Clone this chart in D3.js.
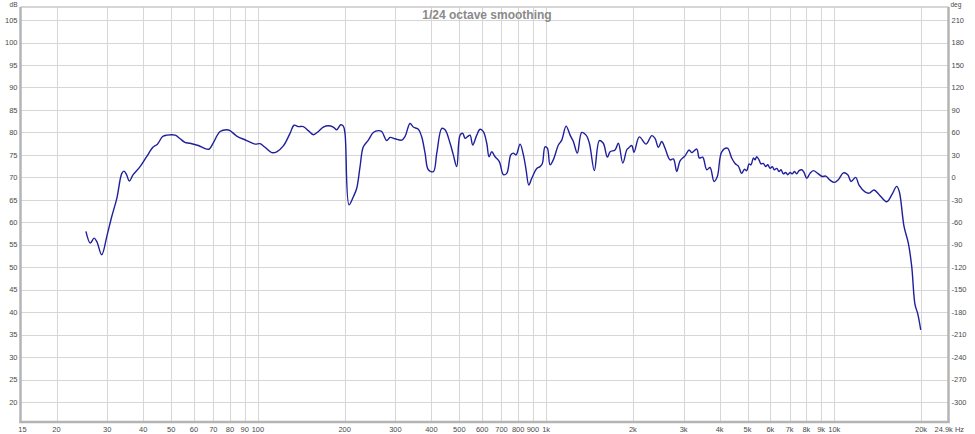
<!DOCTYPE html>
<html>
<head>
<meta charset="utf-8">
<script src="https://cdn.jsdelivr.net/npm/d3@7"></script>
<style>
  html, body { margin: 0; padding: 0; background: #fff; }
  svg { display: block; }
  text { font-family: "Liberation Sans", Arial, sans-serif; }
</style>
</head>
<body>
<svg id="chart" width="975" height="434"></svg>
<script>
// ---- data ----
const title = "1/24 octave smoothing";
const freqTicks = [20,30,40,50,60,70,80,90,100,200,300,400,500,600,700,800,900,1000,2000,3000,4000,5000,6000,7000,8000,9000,10000,20000];
const freqTickLabels = ["20","30","40","50","60","70","80","90","100","200","300","400","500","600","700","800","900","1k","2k","3k","4k","5k","6k","7k","8k","9k","10k","20k"];
const dbTicks = [20,25,30,35,40,45,50,55,60,65,70,75,80,85,90,95,100,105];
const degTickLabels = ["-300","-270","-240","-210","-180","-150","-120","-90","-60","-30","0","30","60","90","120","150","180","210"];
const freqDomain = [15, 24900];
const dbDomain = [15.6, 107.9];

const freq = [25.3,26.2,27.0,27.6,28.7,29.9,31.1,32.4,33.7,34.3,35.0,35.8,36.9,39.0,41.1,43.2,44.8,46.7,48.3,51.6,53.7,55.8,58.1,62.1,66.4,67.8,70.0,73.9,77.9,80.0,84.4,91.4,97.7,101.7,105.8,111.7,116.2,122.5,129.2,133.5,138.1,143.7,149.6,155.7,162.0,168.6,175.5,182.6,187.7,193.8,197.8,
 200.5,207.1,214.3,220.2,226.1,232.1,241.6,251.4,261.7,268.9,279.9,287.4,299.1,315.5,323.9,337.1,346.1,360.3,370.2,380.1,390.3,406.2,417.4,434.4,446.0,464.2,476.4,489.6,502.7,513.6,523.1,534.5,544.5,556.3,574.4,589.8,605.5,622.2,633.8,647.6,664.9,688.1,710.5,730.1,753.9,769.7,786.5,812.1,833.8,852.0,870.6,891.7,927.9,952.6,970.3,991.3,1010,1032,1059,1103,1133,1173,1211,1243,1283,1329,1376,1413,1470,1530,1579,1631,1667,1734,1781,1845,1904,1929,1982,2018,
 2106,2222,2326,2387,2451,2518,2586,2692,2764,2840,2916,3034,3133,3201,3332,3401,3494,3608,3705,3825,3927,4068,4255,4406,4524,4645,4772,4873,4967,5059,5140,5236,5308,5380,5480,5568,5672,5781,5875,5984,6095,6193,6313,6430,6533,6654,6783,6893,7021,7150,7266,7406,7544,7708,7851,8023,8236,8456,8757,9087,9337,9663,10000,10325,10747,11133,11430,11866,12184,12781,13227,13734,14330,15203,15821,16465,16810,17453,18062,18559,19056,19470,19943];
const spl = [58.0,55.4,56.5,55.7,52.8,56.9,61.3,65.4,70.9,71.4,70.6,69.2,70.6,72.4,74.6,76.7,77.4,79.1,79.4,79.4,78.6,77.8,77.6,77.1,76.3,76.3,77.7,80.2,80.6,80.4,79.2,78.2,77.4,77.5,76.7,75.5,75.7,77.0,79.8,81.6,81.3,81.3,80.4,79.5,80.2,81.2,81.5,81.2,80.6,81.7,81.4,
 79.8,63.9,65.7,67.6,72.4,76.8,78.3,80.0,80.4,80.2,78.2,78.9,78.6,78.3,79.1,82.0,81.2,80.7,79.0,75.4,71.7,71.3,75.4,80.9,80.6,77.6,75.0,72.4,79.4,79.8,78.7,79.1,79.4,77.2,79.4,80.7,80.2,77.6,74.6,75.7,74.6,73.5,70.6,70.9,75.0,75.4,75.0,77.4,75.0,71.7,68.3,69.8,72.0,72.4,73.1,76.8,76.5,72.8,73.9,77.2,78.3,81.4,79.4,78.0,75.4,80.0,79.4,77.6,71.5,78.2,77.6,74.5,75.7,76.1,77.6,73.2,76.1,76.5,77.1,75.6,
 79.0,77.4,79.3,78.7,76.7,78.0,76.5,73.9,74.1,71.3,73.7,74.8,76.1,75.5,76.3,74.3,74.5,71.7,72.2,69.1,70.2,75.7,76.5,74.3,73.1,72.5,70.9,71.8,71.5,73.0,72.8,74.3,73.9,74.6,73.9,73.0,73.1,72.4,72.8,72.0,72.4,71.7,72.0,71.3,71.7,70.8,71.1,70.6,71.1,70.8,71.3,70.8,71.5,71.7,71.1,69.8,70.9,71.5,70.9,70.2,70.3,69.4,68.9,69.5,71.0,70.6,69.1,70.0,68.3,66.8,66.5,67.2,66.1,64.6,66.1,68.0,66.8,59.1,55.4,50.2,41.7,39.7,36.1];

// ---- chart ----
const L = 20.5, R = 948.5, T = 7, B = 422;
const svg = d3.select("#chart");

const x = d3.scaleLog().domain(freqDomain).range([L, R]);
const y = d3.scaleLinear().domain(dbDomain).range([B, T]);

const labelColor = "#4a4a4a";
const gridColor = "#d6d6d6";
const frameColor = "#b4b4b4";

// horizontal grid
svg.append("g").selectAll("line").data(dbTicks).join("line")
  .attr("x1", L).attr("x2", R)
  .attr("y1", d => Math.round(y(d)) + 0.5).attr("y2", d => Math.round(y(d)) + 0.5)
  .attr("stroke", gridColor).attr("stroke-width", 1);

// vertical grid
svg.append("g").selectAll("line").data(freqTicks).join("line")
  .attr("x1", d => Math.round(x(d)) + 0.5).attr("x2", d => Math.round(x(d)) + 0.5)
  .attr("y1", T).attr("y2", B)
  .attr("stroke", gridColor).attr("stroke-width", 1);

// frame
svg.append("line").attr("x1", L).attr("x2", R).attr("y1", T).attr("y2", T)
  .attr("stroke", "#c8c8c8").attr("stroke-width", 1.5);
svg.append("line").attr("x1", L).attr("x2", L).attr("y1", T).attr("y2", B + 1)
  .attr("stroke", frameColor).attr("stroke-width", 2.5);
svg.append("line").attr("x1", R).attr("x2", R).attr("y1", T).attr("y2", B + 1)
  .attr("stroke", frameColor).attr("stroke-width", 2.5);
svg.append("line").attr("x1", L - 1).attr("x2", R + 1).attr("y1", B).attr("y2", B)
  .attr("stroke", frameColor).attr("stroke-width", 2.5);

// left labels
svg.append("g").selectAll("text").data(dbTicks).join("text")
  .attr("x", L - 3).attr("y", d => y(d))
  .attr("dy", "0.35em").attr("text-anchor", "end")
  .attr("font-size", 7.5).attr("fill", labelColor)
  .text(d => d);
svg.append("text").attr("x", L - 3).attr("y", 7).attr("text-anchor", "end")
  .attr("font-size", 6.5).attr("fill", labelColor).text("dB");

// right labels
svg.append("g").selectAll("text").data(dbTicks).join("text")
  .attr("x", R + 3).attr("y", d => y(d))
  .attr("dy", "0.35em").attr("text-anchor", "start")
  .attr("font-size", 7.5).attr("fill", labelColor)
  .text((d, i) => degTickLabels[i]);
svg.append("text").attr("x", R + 2).attr("y", 7).attr("text-anchor", "start")
  .attr("font-size", 6.5).attr("fill", labelColor).text("deg");

// bottom labels
svg.append("g").selectAll("text").data(freqTicks).join("text")
  .attr("x", d => x(d)).attr("y", B + 10)
  .attr("text-anchor", "middle")
  .attr("font-size", 7.5).attr("fill", labelColor)
  .text((d, i) => freqTickLabels[i]);
svg.append("text").attr("x", x(15) + 2).attr("y", B + 10).attr("text-anchor", "middle")
  .attr("font-size", 7.5).attr("fill", labelColor).text("15");
svg.append("text").attr("x", R - 14).attr("y", B + 10).attr("text-anchor", "start")
  .attr("font-size", 7.5).attr("fill", labelColor).text("24.9k Hz");

// title
svg.append("text").attr("x", 487).attr("y", 19).attr("text-anchor", "middle")
  .attr("font-size", 12).attr("font-weight", "bold").attr("fill", "#8a8a8a")
  .text(title);

// curve
const pts = freq.map((f, i) => [f, spl[i]]);
const line = d3.line()
  .x(d => x(d[0])).y(d => y(d[1]))
  .curve(d3.curveCatmullRom.alpha(0.5));
svg.append("path").datum(pts)
  .attr("d", line)
  .attr("fill", "none")
  .attr("stroke", "#1f1f9e")
  .attr("stroke-width", 1.4)
  .attr("stroke-linejoin", "round");
</script>
</body>
</html>
